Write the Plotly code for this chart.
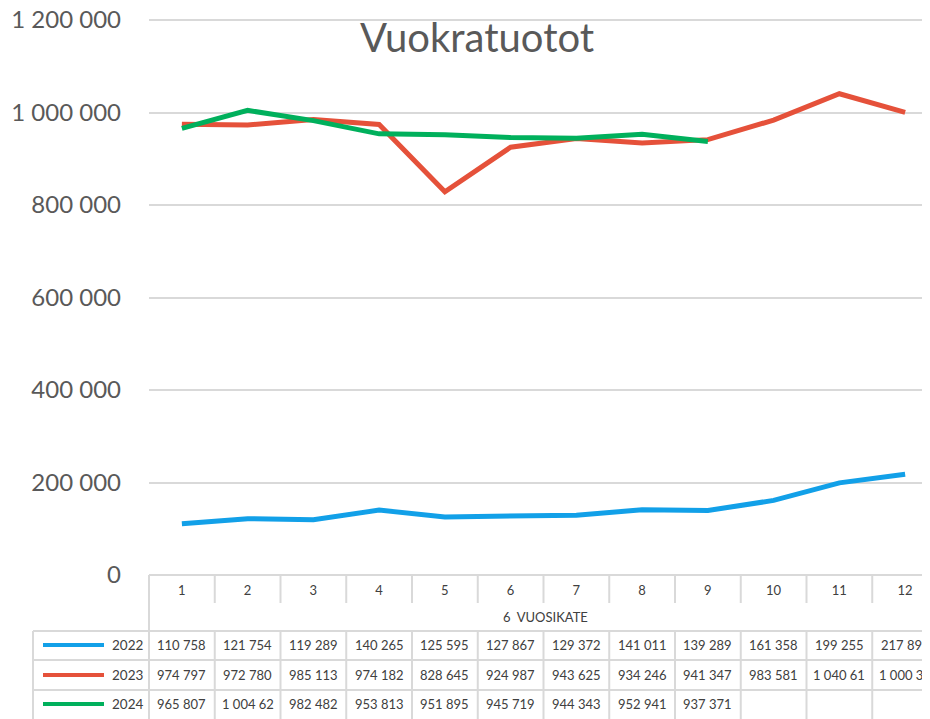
import plotly.graph_objects as go

# ---- data ----
months = [1, 2, 3, 4, 5, 6, 7, 8, 9, 10, 11, 12]
series_names = ["2022", "2023", "2024"]
v2022 = [110758, 121754, 119289, 140265, 125595, 127867, 129372, 141011, 139289, 161358, 199255, 217898]
v2023 = [974797, 972780, 985113, 974182, 828645, 924987, 943625, 934246, 941347, 983581, 1040610, 1000390]
v2024 = [965807, 1004620, 982482, 953813, 951895, 945719, 944343, 952941, 937371]
y_ticks = [0, 200000, 400000, 600000, 800000, 1000000, 1200000]
y_tick_labels = ["0", "200 000", "400 000", "600 000", "800 000", "1 000 000", "1 200 000"]
title_text = "Vuokratuotot"
x_title = "6  VUOSIKATE"

colors = ["#12A0E8", "#E5513A", "#00B05C"]
all_values = [v2022, v2023, v2024]

OFF = 8  # page body margin
W, H = 930 - OFF, 719 - OFF
ML, MT = 149 - OFF, 9
MB = H - (575 - OFF)
plot_h = H - MT - MB
plot_w = W - ML
# keep 1 200 000 at reference row 20 (555 px above zero), with a little headroom
Y_MAX = 1200000 * plot_h / 555
GRID = "#D9D9D9"
FONT = "Lato"


def py(pix):
    """reference pixel row -> paper y"""
    return ((575 - OFF) - (pix - OFF)) / plot_h


def px(pix):
    return ((pix - OFF) - ML) / plot_w


def fmt(v):
    s = f"{v:,}".replace(",", " ")
    return s[:8]  # cell clips wide numbers


fig = go.Figure()
for name, vals, c in zip(series_names, all_values, colors):
    fig.add_trace(go.Scatter(
        x=months[:len(vals)], y=vals, name=name, mode="lines",
        line=dict(color=c, width=5), showlegend=False, cliponaxis=False,
    ))

shapes = []
annotations = []

for yy in [631, 660, 690]:
    shapes.append(dict(type="line", xref="paper", yref="paper", x0=px(33), x1=1.02,
                       y0=py(yy), y1=py(yy), line=dict(color=GRID, width=2)))
shapes.append(dict(type="line", xref="paper", yref="paper", x0=px(33), x1=px(33),
                   y0=py(631), y1=py(725), line=dict(color=GRID, width=2)))
shapes.append(dict(type="line", xref="paper", yref="paper", x0=0, x1=0,
                   y0=py(575), y1=py(725), line=dict(color=GRID, width=2)))
for m in months:
    b = m + 0.5
    shapes.append(dict(type="line", xref="x", yref="paper", x0=b, x1=b,
                       y0=py(575), y1=py(603), line=dict(color=GRID, width=2)))
    shapes.append(dict(type="line", xref="x", yref="paper", x0=b, x1=b,
                       y0=py(631), y1=py(725), line=dict(color=GRID, width=2)))

row_centers = [645, 675, 704]
for name, vals, c, rc in zip(series_names, all_values, colors, row_centers):
    shapes.append(dict(type="line", xref="paper", yref="paper", x0=px(43), x1=px(104),
                       y0=py(rc), y1=py(rc), line=dict(color=c, width=4)))
    annotations.append(dict(xref="paper", yref="paper", x=px(110), y=py(rc), text=name,
                            showarrow=False, xanchor="left", yanchor="middle",
                            font=dict(family=FONT, size=13.5, color="#404040")))
    for m, v in zip(months, vals):
        annotations.append(dict(xref="x", yref="paper", x=m, y=py(rc), text=fmt(v),
                                showarrow=False, xanchor="center", yanchor="middle",
                                font=dict(family=FONT, size=13, color="#404040")))

annotations.append(dict(xref="paper", yref="paper", x=px(477), y=py(37), text=title_text,
                        showarrow=False, xanchor="center", yanchor="middle",
                        font=dict(family=FONT, size=40, color="#595959")))
annotations.append(dict(xref="paper", yref="paper", x=px(545), y=py(617), text=x_title,
                        showarrow=False, xanchor="center", yanchor="middle",
                        font=dict(family=FONT, size=13, color="#404040")))

fig.update_layout(
    width=W, height=H,
    margin=dict(l=ML, r=0, t=MT, b=MB, pad=0, autoexpand=False),
    paper_bgcolor="white", plot_bgcolor="white",
    shapes=shapes, annotations=annotations,
    xaxis=dict(range=[0.5, 0.5 + plot_w / 65.75], tickvals=months, automargin=False,
               ticktext=[str(m) for m in months], showgrid=False, zeroline=False,
               showline=False, ticks="", ticklabelstandoff=6,
               tickfont=dict(family=FONT, size=13, color="#404040")),
    yaxis=dict(range=[0, Y_MAX], tickvals=y_ticks, ticktext=y_tick_labels, automargin=False,
               showgrid=True, gridcolor=GRID, gridwidth=2, zeroline=True,
               zerolinecolor=GRID, zerolinewidth=2, showline=False, ticks="",
               ticklabelstandoff=27, ticklabeloverflow="allow",
               tickfont=dict(family=FONT, size=24, color="#595959")),
)

fig.write_html("out.html")
